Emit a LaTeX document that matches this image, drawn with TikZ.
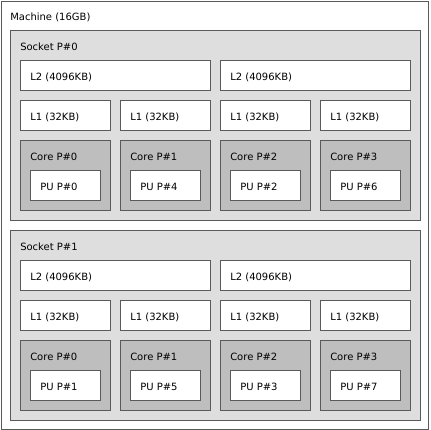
\documentclass[tikz,border=0pt]{standalone}
\usepackage{fontspec}
\setmainfont{DejaVu Sans}
\usetikzlibrary{positioning}

\definecolor{edgegray}{HTML}{5A5A5A}
\definecolor{socketfill}{HTML}{DEDEDE}
\definecolor{corefill}{HTML}{BEBEBE}

\begin{document}
\begin{tikzpicture}
		[x=0.75pt,y=-0.75pt,
		box/.style={draw=edgegray,line width=0.75pt,anchor=north west,inner sep=0pt},
		machine/.style={box,fill=white,minimum width=321pt,minimum height=321pt},
		socket/.style={box,fill=socketfill,minimum width=307.5pt,minimum height=142.5pt},
		ltwo/.style={box,fill=white,minimum width=142.5pt,minimum height=22.5pt},
		lone/.style={box,fill=white,minimum width=67.5pt,minimum height=22.5pt},
		core/.style={box,fill=corefill,minimum width=67.5pt,minimum height=52.5pt},
		pu/.style={box,fill=white,minimum width=52.5pt,minimum height=22.5pt},
		lbl/.style={anchor=base west,inner sep=0pt,font=\fontsize{7.5}{9}\selectfont}]
		\useasboundingbox (0,0) rectangle (430,430);
		
		\node[machine] (m) at (0.5,0.5) {};
		\node[lbl] (mt) at ([shift={(9.5,19.5)}]m.north west) {Machine (16GB)};
		
		\foreach \s/\y/\pa/\pb/\pc/\pd in {0/30/0/4/2/6, 1/230/1/5/3/7} {
			\node[socket] (s\s) at (10,\y) {};
			\node[lbl] (s\s t) at ([shift={(10,20)}]s\s.north west) {Socket P\#\s};
			% shared L2
			\foreach \k in {0,1} {
				\node[ltwo] (s\s l2\k) at ({20+200*\k},{\y+30}) {};
				\node[lbl] (s\s l2\k t) at ([shift={(10,20)}]s\s l2\k.north west) {L2 (4096KB)};
			}
			% L1 + core + pu
			\foreach \c/\p in {0/\pa,1/\pb,2/\pc,3/\pd} {
				\node[lone] (s\s l1\c) at ({20+100*\c},{\y+70}) {};
				\node[lbl] (s\s l1\c t) at ([shift={(10,20)}]s\s l1\c.north west) {L1 (32KB)};
				\node[core] (s\s c\c) at ({20+100*\c},{\y+110}) {};
				\node[lbl] (s\s c\c t) at ([shift={(10,20)}]s\s c\c.north west) {Core P\#\c};
				\node[pu] (s\s p\c) at ({30+100*\c},{\y+140}) {};
				\node[lbl] (s\s p\c t) at ([shift={(10,20)}]s\s p\c.north west) {PU P\#\p};
			}
		}
		\end{tikzpicture}
\end{document}
